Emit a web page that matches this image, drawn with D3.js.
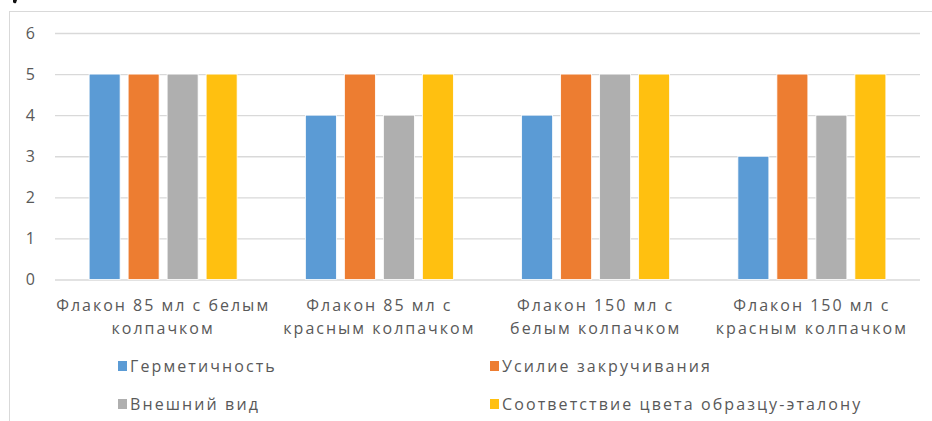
<!DOCTYPE html>
<html><head><meta charset="utf-8">
<script src="https://cdn.jsdelivr.net/npm/d3@7"></script>
<style>
html,body{margin:0;padding:0;background:#fff;}
svg text{font-family:"Open Sans","Liberation Sans",sans-serif;fill:#595959;}
</style></head>
<body><svg id="c" width="932" height="421"></svg>
<script>
const categories = [
  ["Флакон 85 мл с белым", "колпачком"],
  ["Флакон 85 мл с", "красным колпачком"],
  ["Флакон 150 мл с", "белым колпачком"],
  ["Флакон 150 мл с", "красным колпачком"]
];
const seriesNames = ["Герметичность", "Усилие закручивания", "Внешний вид", "Соответствие цвета образцу-эталону"];
const seriesColors = ["#5b9bd5", "#ed7d31", "#afafaf", "#ffc010"];
const germetichnost = [5, 4, 4, 3];
const usilie = [5, 5, 5, 5];
const vneshniy = [5, 4, 5, 4];
const sootvetstvie = [5, 5, 5, 5];
const yTicks = [0, 1, 2, 3, 4, 5, 6];

(function() {
const seriesValues = [germetichnost, usilie, vneshniy, sootvetstvie];
const svg = d3.select("#c");

// frame
svg.append("rect").attr("x", 9.5).attr("y", 11.5).attr("width", 940).attr("height", 430)
  .attr("fill", "none").attr("stroke", "#d9d9d9").attr("stroke-width", 1);
// cut glyph at top-left
svg.append("path").attr("d", "M13,0 L17,0 L16,3 Q14,4 13,2 Z").attr("fill", "#111");

const pLeft = 55, pRight = 920, pTop = 33, pBottom = 279.5;
const catIdx = categories.map((d, i) => i);
const x0 = d3.scaleBand().domain(catIdx).range([pLeft, pRight]);
const y = d3.scaleLinear().domain([0, 6]).range([pBottom, pTop]);
const cluster = 148;
const x1 = d3.scaleBand().domain(d3.range(seriesNames.length))
  .range([(x0.bandwidth() - cluster) / 2, (x0.bandwidth() + cluster) / 2])
  .paddingInner(8 / 39).paddingOuter(0);

// gridlines
const yAxis = d3.axisLeft(y).tickValues(yTicks).tickSize(-(pRight - pLeft)).tickFormat(d3.format("d"));
const gy = svg.append("g").attr("transform", `translate(${pLeft},0)`).call(yAxis);
gy.select(".domain").remove();
gy.selectAll(".tick line").attr("stroke", "#d9d9d9").attr("stroke-width", 1.3);
gy.selectAll(".tick text").attr("x", -20).attr("font-size", 16).attr("fill", "#595959").style("text-anchor", "end");

// bars
const groups = svg.append("g").selectAll("g").data(catIdx).join("g")
  .attr("transform", d => `translate(${x0(d)},0)`);
groups.selectAll("rect").data(c => seriesValues.map((vals, s) => ({s, v: vals[c]}))).join("rect")
  .attr("x", d => x1(d.s)).attr("width", x1.bandwidth())
  .attr("y", d => y(d.v)).attr("height", d => y(0) - y(d.v))
  .attr("fill", d => seriesColors[d.s]).attr("stroke", "#fff").attr("stroke-width", 0.8);

// category labels via bottom axis
const xAxis = d3.axisBottom(x0).tickSize(0).tickFormat(() => "");
const gx = svg.append("g").attr("transform", `translate(0,${pBottom})`).call(xAxis);
gx.select(".domain").remove();
gx.selectAll(".tick").each(function(d) {
  const t = d3.select(this).select("text").text(null).attr("y", 0).attr("dy", null)
    .attr("font-size", 16).attr("fill", "#595959").style("letter-spacing", "2px");
  categories[d].forEach((line, i) => {
    t.append("tspan").attr("x", 0).attr("y", 31.5 + i * 23).text(line);
  });
});

// legend
const legPos = [[118, 366], [490, 366], [118, 404], [490, 404]];
const leg = svg.append("g").selectAll("g").data(seriesNames).join("g")
  .attr("transform", (d, i) => `translate(${legPos[i][0]},${legPos[i][1]})`);
leg.append("rect").attr("x", 0).attr("y", -5).attr("width", 9).attr("height", 10)
  .attr("fill", (d, i) => seriesColors[i]);
leg.append("text").attr("x", 12).attr("y", 6).attr("font-size", 16)
  .style("letter-spacing", "2.1px").text(d => d);
})();
</script></body></html>
